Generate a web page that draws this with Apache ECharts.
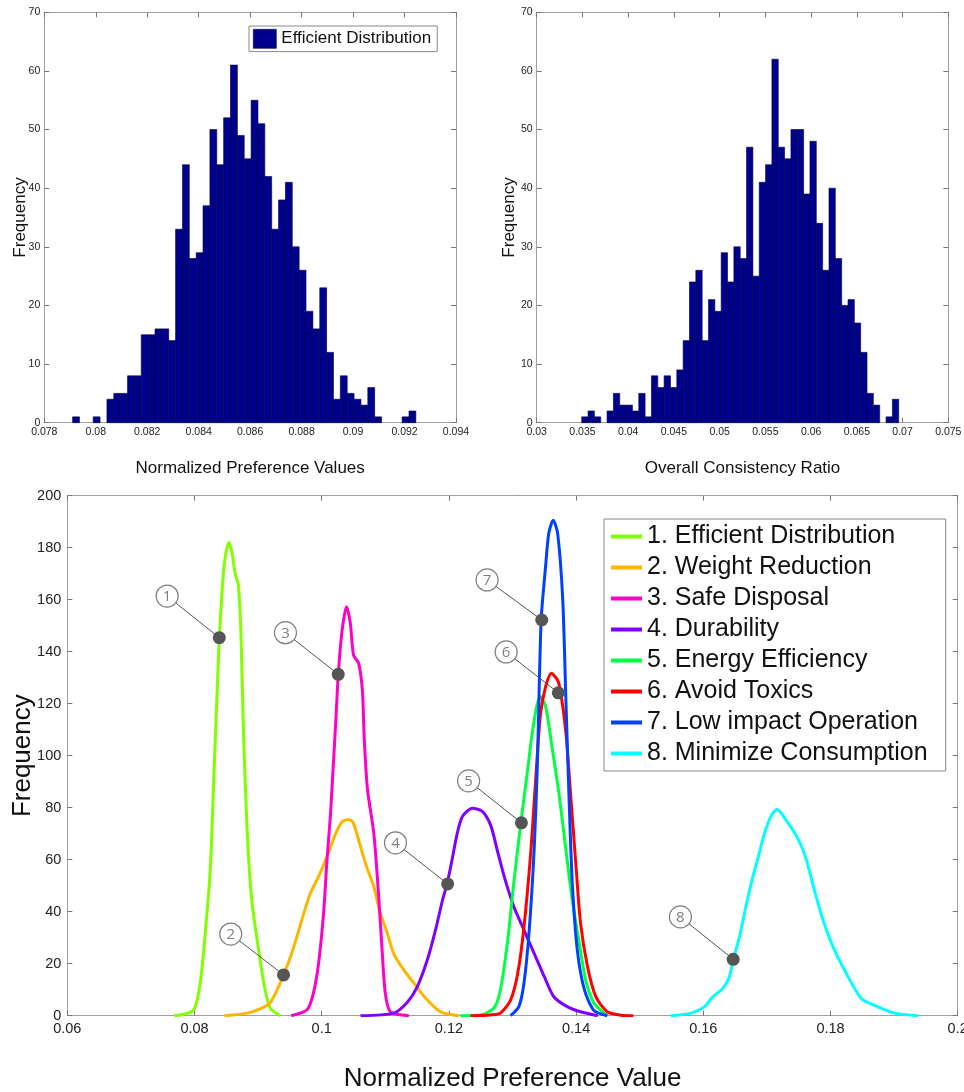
<!DOCTYPE html>
<html>
<head>
<meta charset="utf-8">
<script src="https://cdn.jsdelivr.net/npm/echarts@6/dist/echarts.min.js"></script>
<style>
html,body{margin:0;padding:0;background:#fff;}
#main{width:964px;height:1092px;}
</style>
</head>
<body>
<div id="main"></div>
<script>
// ---------- Top-left histogram: Normalized Preference Values (Efficient Distribution), 50 bins ----------
const hist1Range = [0.0791, 0.09244];
const hist1Counts = [1,0,0,1,0,4,5,5,8,8,15,15,16,16,14,33,44,28,29,37,50,44,52,61,49,45,55,51,42,33,38,41,30,26,19,16,23,12,4,8,5,4,3,6,1,0,0,0,1,2];
const hist1XTicks = [0.078, 0.094, 0.002];

// ---------- Top-right histogram: Overall Consistency Ratio, 50 bins ----------
const hist2Range = [0.03492, 0.06958];
const hist2Counts = [1,2,1,0,2,5,3,3,2,5,1,8,6,8,6,9,14,24,26,14,21,19,29,24,30,28,47,25,41,44,62,47,45,50,50,39,48,34,26,40,28,20,21,17,12,5,3,0,1,4];
const hist2XTicks = [0.03, 0.075, 0.005];

// ---------- Bottom: frequency curves ----------
const names = ['1. Efficient Distribution','2. Weight Reduction','3. Safe Disposal','4. Durability','5. Energy Efficiency','6. Avoid Toxics','7. Low impact Operation','8. Minimize Consumption'];
const colors = ['#80ff00','#ffb400','#ff00c8','#7f00ff','#00ff40','#ff0000','#0040ff','#00ffff'];

const s1 = [[0.0768,0],[0.0798,2],[0.0809,12.6],[0.0817,32],[0.0825,57],[0.0830,89],[0.0835,121],[0.0839,145],[0.0843,162],[0.0847,174],[0.0854,182],[0.0859,178],[0.0864,170],[0.0869,165.6],[0.0873,147],[0.0877,109],[0.0883,70],[0.0890,44.5],[0.0901,25],[0.0909,12.5],[0.0919,3],[0.0935,0]];
const s2 = [[0.0847,0],[0.0883,1],[0.0903,2.6],[0.0919,5],[0.0930,10],[0.0940,15.6],[0.0951,22.7],[0.0961,30.4],[0.0972,39.5],[0.0982,47],[0.0995,53.5],[0.1008,61],[0.1022,70],[0.1032,74.6],[0.1043,75.5],[0.1050,74],[0.1061,65],[0.1071,57],[0.1082,49.6],[0.1092,39.5],[0.1103,31.8],[0.1113,24],[0.1129,17.6],[0.1145,12.5],[0.1166,6],[0.1187,1.5],[0.1216,0]];
const s3 = [[0.0952,0],[0.0977,2.3],[0.0987,8.7],[0.0995,20],[0.1003,39.5],[0.1008,58.7],[0.1014,78],[0.1016,86.8],[0.1022,112.5],[0.1026,131],[0.1032,148],[0.1039,157.3],[0.1045,151],[0.1050,138.7],[0.1058,135.6],[0.1064,125],[0.1067,106],[0.1072,87],[0.1082,70],[0.1090,44.5],[0.1095,25],[0.1100,8.7],[0.1108,1.5],[0.1137,0]];
const s4 = [[0.1061,0],[0.1113,1],[0.1134,5],[0.1150,11],[0.1166,21.4],[0.1179,33],[0.1190,44.5],[0.1197,50.6],[0.1205,60],[0.1213,70],[0.1221,76.5],[0.1237,79.8],[0.1253,78.5],[0.1266,73],[0.1276,63.7],[0.1287,53.5],[0.1302,42],[0.1318,33],[0.1334,24],[0.1350,15],[0.1365,7.3],[0.1386,3.5],[0.1407,1.5],[0.1434,0]];
const s5 = [[0.1218,0],[0.1250,0.3],[0.1271,3],[0.1281,10],[0.1292,28],[0.1302,51],[0.1313,74],[0.1323,93],[0.1331,108.6],[0.1339,120],[0.1344,122.7],[0.1352,119],[0.1363,102],[0.1373,85.6],[0.1384,63.7],[0.1394,44.5],[0.1405,28],[0.1415,13.7],[0.1428,4.9],[0.1444,1],[0.1449,0]];
const s6 = [[0.1234,0],[0.1265,0.3],[0.1281,1],[0.1297,6],[0.1308,16],[0.1318,34],[0.1329,63.7],[0.1337,93],[0.1344,116],[0.1352,126.5],[0.1361,131.7],[0.1371,129],[0.1376,124],[0.1384,108.7],[0.1392,83],[0.1400,57],[0.1407,35.6],[0.1418,18.8],[0.1431,7.3],[0.1449,1.5],[0.1470,0.2],[0.1490,0]];
const s7 = [[0.1297,0],[0.1310,3.5],[0.1318,12.5],[0.1326,32],[0.1334,63.7],[0.1339,95.8],[0.1345,152],[0.1352,172.7],[0.1357,185.5],[0.1364,190.6],[0.1371,185.5],[0.1379,160],[0.1384,121],[0.1389,83],[0.1394,51],[0.1402,25],[0.1413,10],[0.1428,2],[0.1449,0]];
const s8 = [[0.1549,0],[0.1581,1],[0.1602,3.5],[0.1615,7.3],[0.1631,10.6],[0.1641,15],[0.1647,21.4],[0.1657,30.4],[0.1667,42],[0.1678,53.5],[0.1688,62.5],[0.1696,70],[0.1707,77],[0.1716,79.4],[0.1728,76],[0.1749,68],[0.1762,60],[0.1775,48],[0.1788,37],[0.1804,26.5],[0.1822,17.6],[0.1848,6.7],[0.1869,4],[0.1901,1],[0.1938,0]];
const curves = [s1,s2,s3,s4,s5,s6,s7,s8];
const bottomXTicks = [0.06, 0.2, 0.02];

// ---------- Callout annotations: [labelX, labelY, dotX, dotY] ----------
const calloutText = ['1','2','3','4','5','6','7','8'];
const calloutLabelX = [0.0757, 0.0857, 0.0943, 0.1116, 0.1231, 0.1290, 0.1260, 0.1564];
const calloutLabelY = [161.4, 31.4, 147.3, 66.5, 90.3, 139.9, 167.6, 38];
const calloutDotX = [0.0839, 0.0940, 0.1026, 0.1198, 0.1314, 0.1372, 0.1346, 0.1647];
const calloutDotY = [145.4, 15.7, 131.3, 50.7, 74.2, 124.2, 152.2, 21.7];

// ---------- build ----------
const FONT = '"Liberation Sans", Arial, sans-serif';
const fmt = v => String(parseFloat(v.toFixed(4)));
const axisGray = '#a0a0a0';

function histData(range, counts){
  const w = (range[1]-range[0])/counts.length;
  return counts.map((c,i)=>[range[0]+i*w, range[0]+(i+1)*w, c]);
}
function histRender(params, api){
  const c = api.value(2);
  if (!c) return null;
  const p0 = api.coord([api.value(0), 0]);
  const p1 = api.coord([api.value(1), c]);
  return {type:'rect', shape:{x:p0[0], y:p1[1], width:p1[0]-p0[0], height:p0[1]-p1[1]},
    style:{fill:'#00008f', stroke:'#000030', lineWidth:0.6}};
}
function xAx(grid, ticks, pos, labelSize, showLabel, name, nameSize, nameGap){
  return {type:'value', gridIndex:grid, position:pos, min:ticks[0], max:ticks[1], interval:ticks[2],
    axisLine:{show:true, onZero:false, lineStyle:{color:axisGray, width:1}},
    axisTick:{show:true, inside:true, length:5, lineStyle:{color:'#777'}},
    splitLine:{show:false},
    axisLabel:{show:showLabel, formatter:fmt, color:'#222', fontSize:labelSize, fontFamily:FONT, margin:labelSize>12?6:4, showMinLabel:true, showMaxLabel:true, hideOverlap:false},
    name: name||'', nameLocation:'middle', nameGap:nameGap||0, nameMoveOverlap:false,
    nameTextStyle:{fontSize:nameSize||12, color:'#111', fontFamily:FONT}};
}
function yAx(grid, max, interval, pos, labelSize, showLabel, name, nameSize, nameGap){
  return {type:'value', gridIndex:grid, position:pos, min:0, max:max, interval:interval,
    axisLine:{show:true, onZero:false, lineStyle:{color:axisGray, width:1}},
    axisTick:{show:true, inside:true, length:5, lineStyle:{color:'#777'}},
    splitLine:{show:false},
    axisLabel:{show:showLabel, color:'#222', fontSize:labelSize, fontFamily:FONT, margin:labelSize>12?6:4},
    name: name||'', nameLocation:'middle', nameGap:nameGap||0, nameRotate:90, nameMoveOverlap:false,
    nameTextStyle:{fontSize:nameSize||12, color:'#111', fontFamily:FONT}};
}

const series = [];
series.push({type:'custom', name:'Efficient Distribution', xAxisIndex:0, yAxisIndex:0,
  data:histData(hist1Range, hist1Counts), renderItem:histRender, itemStyle:{color:'#00008f'}});
series.push({type:'custom', name:'hist2', xAxisIndex:2, yAxisIndex:2,
  data:histData(hist2Range, hist2Counts), renderItem:histRender, itemStyle:{color:'#00008f'}});
curves.forEach((d,i)=>{
  series.push({type:'line', name:names[i], xAxisIndex:4, yAxisIndex:4, data:d, smooth:0.25,
    showSymbol:false, symbol:'none', lineStyle:{color:colors[i], width:3}, itemStyle:{color:colors[i]}, z:2+i*0.01});
});
series.push({type:'custom', name:'callouts', xAxisIndex:4, yAxisIndex:4, z:10,
  data: calloutText.map((t,i)=>[calloutLabelX[i], calloutLabelY[i], calloutDotX[i], calloutDotY[i]]),
  renderItem:function(params, api){
    const a = api.coord([api.value(0), api.value(1)]);
    const d = api.coord([api.value(2), api.value(3)]);
    return {type:'group', children:[
      {type:'line', shape:{x1:a[0], y1:a[1], x2:d[0], y2:d[1]}, style:{stroke:'#555', lineWidth:1}},
      {type:'circle', shape:{cx:a[0], cy:a[1], r:11}, style:{fill:'#fff', stroke:'#808080', lineWidth:1.2}},
      {type:'text', style:{text:calloutText[params.dataIndex], x:a[0], y:a[1]+1, align:'center', verticalAlign:'middle',
        fill:'#808080', font:'15px "Open Sans", sans-serif'}},
      {type:'circle', shape:{cx:d[0], cy:d[1], r:6.5}, style:{fill:'#555'}}
    ]};
  }});

const option = {
  animation:false,
  backgroundColor:'#fff',
  grid:[
    {left:44.3, top:12.3, width:411.7, height:410.4, containLabel:false, outerBoundsMode:'none'},
    {left:536.7, top:12.3, width:411.6, height:410.4, containLabel:false, outerBoundsMode:'none'},
    {left:67.3, top:495.7, width:890.4, height:520, containLabel:false, outerBoundsMode:'none'}
  ],
  xAxis:[
    xAx(0, hist1XTicks, 'bottom', 10.5, true, 'Normalized Preference Values', 17, 37),
    xAx(0, hist1XTicks, 'top', 10.5, false),
    xAx(1, hist2XTicks, 'bottom', 10.5, true, 'Overall Consistency Ratio', 17, 37),
    xAx(1, hist2XTicks, 'top', 10.5, false),
    xAx(2, bottomXTicks, 'bottom', 14.5, true, 'Normalized Preference Value', 26, 50),
    xAx(2, bottomXTicks, 'top', 14.5, false)
  ],
  yAxis:[
    yAx(0, 70, 10, 'left', 10.5, true, 'Frequency', 17, 15),
    yAx(0, 70, 10, 'right', 10.5, false),
    yAx(1, 70, 10, 'left', 10.5, true, 'Frequency', 17, 19),
    yAx(1, 70, 10, 'right', 10.5, false),
    yAx(2, 200, 20, 'left', 14.5, true, 'Frequency', 26, 31),
    yAx(2, 200, 20, 'right', 14.5, false)
  ],
  legend:[
    {data:[{name:'Efficient Distribution', icon:'rect', itemStyle:{color:'#00008f', borderColor:'#000030', borderWidth:0.6}}],
      left:249, top:26, orient:'vertical', padding:[3,6,3,4], itemWidth:23, itemHeight:19,
      borderColor:'#888', borderWidth:1, backgroundColor:'#fff', selectedMode:false,
      textStyle:{fontSize:17, color:'#111', fontFamily:FONT, lineHeight:19}},
    {data:names.map((n,i)=>({name:n, icon:'rect', itemStyle:{color:colors[i]}})),
      left:604, top:519, orient:'vertical', padding:[5,18,5,7], itemWidth:31, itemHeight:4, itemGap:6,
      borderColor:'#888', borderWidth:1, backgroundColor:'#fff', selectedMode:false,
      textStyle:{fontSize:25, color:'#111', fontFamily:FONT, lineHeight:25}}
  ],
  series:series
};
const chart = echarts.init(document.getElementById('main'), null, {renderer:'canvas'});
chart.setOption(option);
</script>
</body>
</html>
